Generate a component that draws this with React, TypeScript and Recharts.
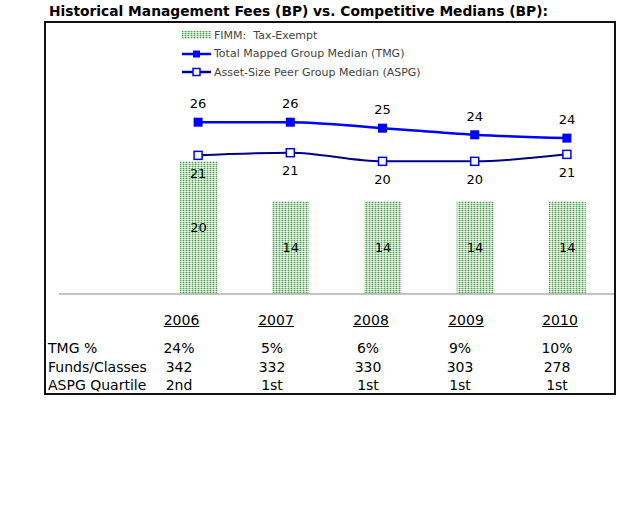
import React from "react";
import { Bar, ComposedChart, LabelList, Legend, Line, XAxis, YAxis } from "recharts";

const years = ["2006", "2007", "2008", "2009", "2010"];
const fimmFees = [20, 14, 14, 14, 14];
const tmgMedian = [25.9, 25.9, 25.0, 24.0, 23.5];
const aspgMedian = [20.9, 21.3, 20.0, 20.0, 21.05];
const tmgPct = ["24%", "5%", "6%", "9%", "10%"];
const fundsClasses = ["342", "332", "330", "303", "278"];
const aspgQuartile = ["2nd", "1st", "1st", "1st", "1st"];

const chartData = years.map((year, i) => ({
  year,
  fimm: fimmFees[i],
  tmg: tmgMedian[i],
  aspg: aspgMedian[i],
}));

// legend order as in the source chart
const legendOrder = ["fimm", "tmg", "aspg"];

// table column centres (px), headers and values sit a little apart
const headerX = [181.5, 276, 371, 466, 560];
const valueX = [179, 272, 368, 460, 557];

const font = "'DejaVu Sans', Verdana, sans-serif";

const fmt = (v: any) => Math.round(Number(v));

function TmgDot(props: any) {
  const { cx, cy, index } = props;
  return <rect key={`tmg-${index}`} x={cx - 4.5} y={cy - 4.5} width={9} height={9} fill="#0000ff" />;
}

function AspgDot(props: any) {
  const { cx, cy, index } = props;
  return (
    <rect key={`aspg-${index}`} x={cx - 4} y={cy - 4} width={8} height={8} fill="#fff" stroke="#0000ff" strokeWidth={1.5} />
  );
}

function LegendContent(props: any) {
  const items = [...(props.payload || [])].sort(
    (a: any, b: any) => legendOrder.indexOf(a.dataKey) - legendOrder.indexOf(b.dataKey)
  );
  return (
    <div style={{ fontFamily: font, fontSize: 11, color: "#444" }}>
      {items.map((it: any) => (
        <div key={it.dataKey} style={{ display: "flex", alignItems: "center", height: 18.5, whiteSpace: "pre" }}>
          <svg width={30} height={12} style={{ marginRight: 2 }}>
            {it.dataKey === "fimm" ? (
              <rect x={0} y={2} width={29} height={8} fill="url(#fimmPattern)" />
            ) : (
              <g>
                <line x1={0} y1={6} x2={29} y2={6} stroke={it.dataKey === "tmg" ? "#0000ff" : "#000080"} strokeWidth={2.5} />
                {it.dataKey === "tmg" ? (
                  <rect x={11} y={2.5} width={7} height={7} fill="#0000ff" />
                ) : (
                  <rect x={11} y={2.5} width={7} height={7} fill="#fff" stroke="#0000ff" strokeWidth={1.5} />
                )}
              </g>
            )}
          </svg>
          <span>{it.value}</span>
        </div>
      ))}
    </div>
  );
}

export default function App() {
  const rowLabel: React.CSSProperties = { position: "absolute", left: 48, fontFamily: font, fontSize: 14, color: "#000", lineHeight: "18px" };
  const rows = [
    { label: "TMG %", values: tmgPct, y: 339 },
    { label: "Funds/Classes", values: fundsClasses, y: 357.5 },
    { label: "ASPG Quartile", values: aspgQuartile, y: 376 },
  ];
  return (
    <div style={{ position: "absolute", left: 0, top: 0, width: 641, height: 512, background: "#fff" }}>
      <div
        style={{
          position: "absolute",
          left: 49,
          top: 2,
          fontFamily: font,
          fontWeight: "bold",
          fontSize: 13.8,
          lineHeight: "18px",
          color: "#000",
          whiteSpace: "nowrap",
        }}
      >
        Historical Management Fees (BP) vs. Competitive Medians (BP):
      </div>
      <div
        style={{
          position: "absolute",
          left: 44,
          top: 21,
          width: 572,
          height: 374,
          border: "2px solid #111",
          boxSizing: "border-box",
        }}
      />
      <div style={{ position: "absolute", left: 0, top: 0 }}>
        <ComposedChart
          width={641}
          height={512}
          data={chartData}
          margin={{ top: 95, right: 27, bottom: 217, left: 59 }}
        >
          <defs>
            <pattern id="fimmPattern" width={3} height={2} patternUnits="userSpaceOnUse">
              <rect x={0} y={0} width={3} height={2} fill="#fff" />
              <rect x={0} y={0} width={1} height={1} fill="#3aa83a" />
              <rect x={0} y={1} width={1} height={1} fill="#b8e4b8" />
              <rect x={1} y={0} width={1} height={1} fill="#c4c4c4" />
              <rect x={1} y={1} width={1} height={1} fill="#ececec" />
              <rect x={2} y={0} width={1} height={1} fill="#a0dca0" />
            </pattern>
          </defs>
          <XAxis
            dataKey="year"
            height={1}
            tick={false}
            tickLine={false}
            axisLine={{ stroke: "#888", strokeWidth: 1 }}
            padding={{ left: 93, right: 1 }}
          />
          <YAxis hide domain={[0, 30]} />
          <Legend
            layout="vertical"
            align="center"
            verticalAlign="middle"
            content={<LegendContent />}
            wrapperStyle={{ position: "absolute", top: 26, left: 182, width: 300 }}
          />
          <Bar dataKey="fimm" name="FIMM:  Tax-Exempt" barSize={37} fill="url(#fimmPattern)" isAnimationActive={false}>
            <LabelList dataKey="fimm" position="center" formatter={fmt} style={{ fontFamily: font, fontSize: 13, fill: "#000" }} />
          </Bar>
          <Line
            dataKey="tmg"
            name="Total Mapped Group Median (TMG)"
            type="monotone"
            stroke="#0000ff"
            strokeWidth={2.5}
            dot={TmgDot}
            activeDot={false}
            isAnimationActive={false}
          >
            <LabelList dataKey="tmg" position="top" offset={14} formatter={fmt} style={{ fontFamily: font, fontSize: 13, fill: "#000" }} />
          </Line>
          <Line
            dataKey="aspg"
            name="Asset-Size Peer Group Median (ASPG)"
            type="monotone"
            stroke="#000080"
            strokeWidth={2}
            dot={AspgDot}
            activeDot={false}
            isAnimationActive={false}
          >
            <LabelList dataKey="aspg" position="bottom" offset={13} formatter={fmt} style={{ fontFamily: font, fontSize: 13, fill: "#000" }} />
          </Line>
        </ComposedChart>
      </div>
      {years.map((y, i) => (
        <div
          key={y}
          style={{
            position: "absolute",
            left: headerX[i] - 40,
            width: 80,
            top: 311,
            textAlign: "center",
            fontFamily: font,
            fontSize: 14,
            lineHeight: "18px",
            textDecoration: "underline",
          }}
        >
          {y}
        </div>
      ))}
      {rows.map((r) => (
        <React.Fragment key={r.label}>
          <div style={{ ...rowLabel, top: r.y }}>{r.label}</div>
          {r.values.map((v, i) => (
            <div
              key={i}
              style={{ ...rowLabel, left: valueX[i] - 30, width: 60, textAlign: "center", top: r.y }}
            >
              {v}
            </div>
          ))}
        </React.Fragment>
      ))}
    </div>
  );
}
